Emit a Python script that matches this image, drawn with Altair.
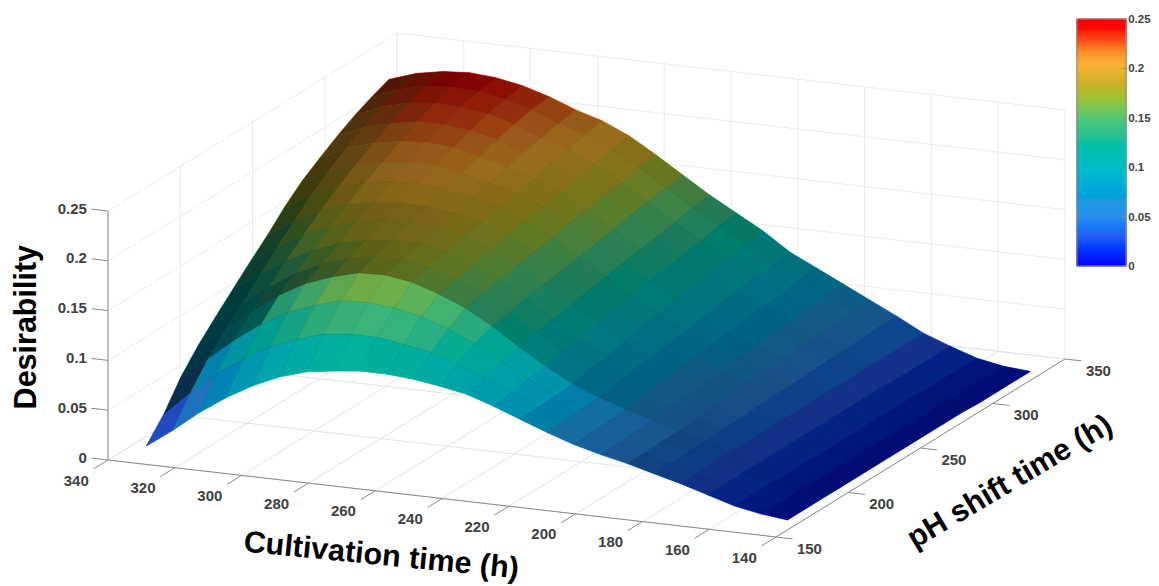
import math
import numpy as np
import altair as alt

# Axis ticks
C_TICKS = [340, 320, 300, 280, 260, 240, 220, 200, 180, 160, 140]
P_TICKS = [150, 200, 250, 300, 350]
Z_TICKS = [0, 0.05, 0.1, 0.15, 0.2, 0.25]

# Values: cultivation time columns, pH shift time rows
CULT = [332, 324, 316, 308, 300, 292, 284, 276, 268, 260, 252, 244, 236,
        228, 220, 212, 204, 196, 188, 180, 172, 164, 156, 148, 140]
PH = [158, 170, 182, 194, 206, 218, 230, 242, 254, 266, 278, 290, 302, 314, 326]

Z_158 = [.010,.029,.050,.068,.083,.095,.103,.107,.110,.110,.108,.104,.099,.090,.080,.070,.061,.054,.048,.041,.034,.026,.018,.013,.010]
Z_170 = [.031,.056,.078,.096,.111,.122,.130,.133,.133,.129,.124,.115,.105,.093,.081,.071,.062,.055,.048,.041,.034,.026,.018,.013,.010]
Z_182 = [.058,.079,.101,.120,.135,.145,.153,.154,.152,.146,.137,.125,.110,.096,.082,.072,.063,.056,.049,.042,.035,.026,.018,.013,.010]
Z_194 = [.079,.097,.119,.138,.153,.163,.170,.171,.167,.158,.147,.132,.114,.098,.083,.073,.064,.056,.049,.042,.035,.026,.017,.012,.010]
Z_206 = [.097,.113,.133,.150,.163,.171,.176,.176,.171,.162,.151,.135,.118,.102,.087,.076,.066,.058,.050,.043,.035,.026,.017,.012,.010]
Z_218 = [.114,.131,.149,.162,.173,.179,.182,.181,.176,.166,.154,.139,.121,.105,.090,.079,.069,.060,.052,.043,.035,.026,.017,.012,.010]
Z_230 = [.131,.148,.164,.175,.184,.188,.189,.185,.180,.170,.158,.142,.125,.109,.094,.081,.071,.062,.053,.044,.035,.026,.017,.012,.010]
Z_242 = [.147,.164,.178,.187,.192,.195,.194,.190,.184,.174,.161,.145,.128,.112,.097,.084,.073,.063,.054,.045,.035,.026,.017,.012,.010]
Z_254 = [.165,.180,.191,.198,.202,.203,.200,.195,.188,.178,.164,.148,.131,.115,.100,.086,.076,.065,.055,.045,.035,.026,.017,.012,.010]
Z_266 = [.180,.193,.202,.208,.211,.210,.206,.199,.192,.181,.168,.151,.134,.119,.104,.089,.078,.067,.056,.046,.035,.026,.017,.012,.010]
Z_278 = [.192,.205,.213,.218,.220,.218,.212,.204,.196,.185,.171,.154,.137,.122,.107,.092,.080,.069,.058,.047,.035,.026,.017,.012,.010]
Z_290 = [.203,.215,.222,.227,.227,.224,.218,.208,.200,.189,.174,.158,.140,.125,.110,.094,.082,.070,.059,.047,.035,.025,.016,.011,.009]
Z_302 = [.213,.225,.232,.235,.234,.230,.223,.212,.204,.192,.177,.161,.143,.128,.113,.097,.084,.072,.060,.048,.035,.025,.016,.011,.009]
Z_314 = [.221,.232,.238,.240,.239,.234,.227,.216,.208,.196,.181,.164,.147,.132,.117,.099,.087,.074,.061,.049,.035,.025,.016,.011,.009]
Z_326 = [.228,.237,.242,.244,.242,.237,.229,.219,.211,.199,.183,.166,.149,.134,.119,.101,.088,.075,.062,.049,.035,.025,.016,.011,.009]
Z_ROWS = [Z_158, Z_170, Z_182, Z_194, Z_206, Z_218, Z_230, Z_242, Z_254, Z_266, Z_278, Z_290, Z_302, Z_314, Z_326]

# Colour bar stops
CB_VALUES = [0, .012, .032, .049, .066, .1, .134, .15, .168, .188, .205, .218, .229, .24, .25]
CB_COLORS = ["#0000ff", "#0a20ff", "#2a60f8", "#2f8cf0", "#2299e0", "#00bcc8", "#2cc090", "#50c878",
             "#96c23c", "#d2b228", "#fbb034", "#fa8a28", "#fb4a18", "#ff0a05", "#ff0000"]

# How dark the mesh looks for a given amount of mesh line per pixel of surface
MESH_DENSITY = [.30, .37, .47, .60, 1.0, 1.6]
MESH_DARKNESS = [.05, .15, .36, .46, .72, .88]


def project(c, p, z=0.0):
    """Fixed orthographic 3-D view of the box, in chart pixels."""
    u, v = 340 - c, p - 150
    return [100 + 3.34 * u + 1.445 * v, 452 + 0.385 * u - 0.89 * v - 996 * z]


def bar_point(frac_x, value):
    """A point of the colour bar: frac_x across its width, value along its length."""
    return [1069 + 49 * frac_x, 11 + 247 * (0.25 - value) / 0.25]


def line(a, b):
    return {"type": "Feature", "properties": {},
            "geometry": {"type": "LineString", "coordinates": [a, b]}}


def geo(features):
    return alt.InlineData(values=features)


wall_grid, floor_grid, axes_lines, ticks, labels_center, labels_right = [], [], [], [], [], []
for c in C_TICKS:
    floor_grid.append(line(project(c, 150), project(c, 350)))
    wall_grid.append(line(project(c, 350), project(c, 350, .25)))
for p in P_TICKS:
    floor_grid.append(line(project(340, p), project(140, p)))
    wall_grid.append(line(project(340, p), project(340, p, .25)))
for z in Z_TICKS:
    wall_grid.append(line(project(340, 150, z), project(340, 350, z)))
    wall_grid.append(line(project(340, 350, z), project(140, 350, z)))

axes_lines.append(line(project(340, 150), project(140, 150)))
axes_lines.append(line(project(140, 150), project(140, 350)))
axes_lines.append(line(project(340, 150), project(340, 150, .25)))

for c in C_TICKS:
    ticks.append(line(project(c, 150), project(c, 140)))
    lon, lat = project(c, 128)
    labels_center.append({"lon": lon, "lat": lat + 1, "t": str(c)})
for p in P_TICKS:
    ticks.append(line(project(140, p), project(135, p)))
    lon, lat = project(130, p, -.008)
    labels_center.append({"lon": lon, "lat": lat, "t": str(p)})
for z in Z_TICKS:
    ticks.append(line(project(340, 150, z), project(345, 150, z)))
    lon, lat = project(346.3, 150, z)
    labels_right.append({"lon": lon, "lat": lat, "t": f"{z:g}"})

# Colour bar parts
bar_strips, bar_lines, bar_labels = [], [], []
N_STRIPS = 124
for k in range(N_STRIPS):
    v0, v1 = 0.25 * k / N_STRIPS, 0.25 * (k + 1) / N_STRIPS
    pts = [bar_point(0, v0), bar_point(1, v0), bar_point(1, v1), bar_point(0, v1), bar_point(0, v0)]
    bar_strips.append({"type": "Feature", "properties": {"z": (v0 + v1) / 2},
                       "geometry": {"type": "Polygon", "coordinates": [pts]}})
for a, b in [((0, 0), (1, 0)), ((1, 0), (1, .25)), ((1, .25), (0, .25)), ((0, .25), (0, 0))]:
    bar_lines.append(line(bar_point(*a), bar_point(*b)))
for z in Z_TICKS:
    bar_lines.append(line(bar_point(0.93, z), bar_point(1, z)))
    lon, lat = bar_point(1.045, z)
    bar_labels.append({"lon": lon, "lat": lat + 1, "t": f"{z:g}"})

# Surface cells, far corner first. The reference's dense black mesh is rendered as a
# per-cell darkening that follows the projected size of its (about 100 x 100) mesh cells.
NI, NJ = len(CULT) - 1, len(PH) - 1
CREST_ROW = [1, 2, 2]          # first row above the crest for the leftmost columns, else row 3
LEFT_FLOOR = [.68, .60, .50]   # grazing band along the left silhouette
FRONT_FACTOR = {14: .55, 15: .65, 16: .75, 17: .85}  # the open front mesh closes up towards the right


def corners(i, j):
    return (project(CULT[i], PH[j], Z_ROWS[j][i]), project(CULT[i + 1], PH[j], Z_ROWS[j][i + 1]),
            project(CULT[i + 1], PH[j + 1], Z_ROWS[j + 1][i + 1]), project(CULT[i], PH[j + 1], Z_ROWS[j + 1][i]))


def raw_shade(i, j):
    a, b, d, e = corners(i, j)
    ex = [((b[0] - a[0]) + (d[0] - e[0])) / 2 * (1.92 / 8), ((b[1] - a[1]) + (d[1] - e[1])) / 2 * (1.92 / 8)]
    ey = [((e[0] - a[0]) + (d[0] - b[0])) / 2 * (1.68 / 12), ((e[1] - a[1]) + (d[1] - b[1])) / 2 * (1.68 / 12)]
    area = abs(ex[0] * ey[1] - ex[1] * ey[0])
    density = (math.hypot(*ex) + math.hypot(*ey)) / max(area, 0.1)
    return float(np.interp(density, MESH_DENSITY, MESH_DARKNESS))


cells = []
WEIGHTS = {-2: .1, -1: .2, 0: .4, 1: .2, 2: .1}
for j in range(NJ - 1, -1, -1):
    for i in range(NI):
        a, b, d, e = corners(i, j)
        zm = (Z_ROWS[j][i] + Z_ROWS[j][i + 1] + Z_ROWS[j + 1][i + 1] + Z_ROWS[j + 1][i]) / 4
        shade = sum(w * raw_shade(min(NI - 1, max(0, i + k)), j) for k, w in WEIGHTS.items())
        crest = CREST_ROW[i] if i < len(CREST_ROW) else 3
        if j < crest:
            shade *= .45 if i < 14 else FRONT_FACTOR.get(i, 1)
        elif i < len(LEFT_FLOOR):
            shade = max(shade, LEFT_FLOOR[i])
        cells.append({"type": "Feature", "properties": {"z": round(zm, 4), "shade": round(shade, 3)},
                      "geometry": {"type": "Polygon", "coordinates": [[a, b, d, e, a]]}})

color_scale = alt.Scale(domain=CB_VALUES, range=CB_COLORS, clamp=True)

walls = alt.Chart(geo(wall_grid)).mark_geoshape(filled=False, stroke="#ebebeb", strokeWidth=1)
floor = alt.Chart(geo(floor_grid)).mark_geoshape(filled=False, stroke="#e2e2e2", strokeWidth=1)
surface = alt.Chart(geo(cells)).mark_geoshape(strokeWidth=0.8).encode(
    fill=alt.Fill("properties.z:Q", scale=color_scale, legend=None),
    stroke=alt.Stroke("properties.z:Q", scale=color_scale, legend=None),
)
mesh = alt.Chart(geo(cells)).mark_geoshape(fill="black", stroke="black", strokeWidth=0.3, strokeOpacity=0.15).encode(
    fillOpacity=alt.FillOpacity("properties.shade:Q", scale=None, legend=None)
)
axes_mark = alt.Chart(geo(axes_lines + ticks)).mark_geoshape(filled=False, stroke="#8a8a8a", strokeWidth=1)
bar = alt.Chart(geo(bar_strips)).mark_geoshape(strokeWidth=1.2).encode(
    fill=alt.Fill("properties.z:Q", scale=color_scale, legend=None),
    stroke=alt.Stroke("properties.z:Q", scale=color_scale, legend=None),
)
bar_frame = alt.Chart(geo(bar_lines)).mark_geoshape(filled=False, stroke="#8a8a8a", strokeWidth=1)


def tick_text(rows, align, size=15):
    return alt.Chart(alt.Data(values=rows)).mark_text(
        font="Liberation Sans", fontWeight="bold", fontSize=size, color="#404040", baseline="middle", align=align
    ).encode(longitude="lon:Q", latitude="lat:Q", text="t:N")


def title(text, c, p, z, angle, size):
    lon, lat = project(c, p, z)
    return alt.Chart(alt.Data(values=[{"lon": lon, "lat": lat, "t": text}])).mark_text(
        font="Liberation Sans", fontWeight="bold", fontSize=size, color="black", angle=angle,
        align="center", baseline="middle"
    ).encode(longitude="lon:Q", latitude="lat:Q", text="t:N")


chart = alt.layer(
    walls, floor, surface, mesh, axes_mark, bar, bar_frame,
    tick_text(labels_center, "center"), tick_text(labels_right, "right"), tick_text(bar_labels, "left", 11.5),
    title("Cultivation time (h)", 231.8, 89, 0, 5.6, 30.5),
    title("pH shift time (h)", 103.5, 227.6, 0, 329.3, 30.5),
    title("Desirability", 364.2, 150, .124, 270, 30.5),
).project(type="identity", scale=1, translate=[0, 0]).properties(
    width=1143, height=578, padding=0, autosize="none"
).configure_view(stroke=None)

chart.save("out.html", embed_options={"renderer": "svg", "actions": False})
